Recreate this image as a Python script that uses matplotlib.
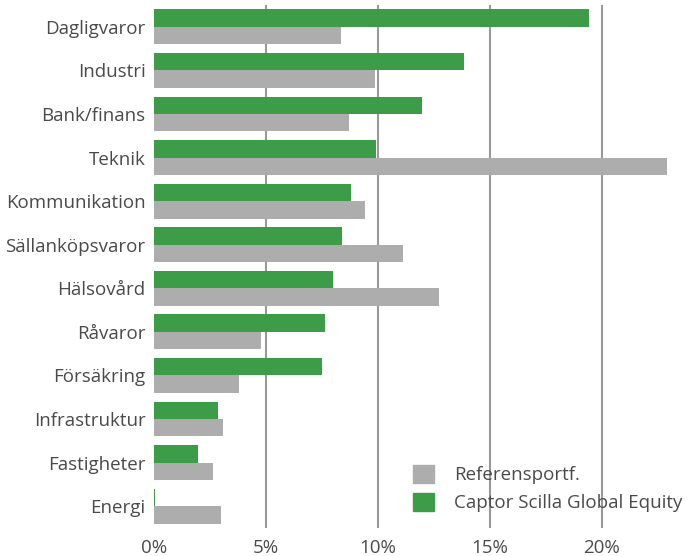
import matplotlib.pyplot as plt
import numpy as np
from matplotlib.patches import Patch

plt.rcParams['font.family'] = ['Open Sans', 'DejaVu Sans']

# Sektorfördelning (%)
sectors = ["Dagligvaror", "Industri", "Bank/finans", "Teknik", "Kommunikation",
           "Sällanköpsvaror", "Hälsovård", "Råvaror", "Försäkring",
           "Infrastruktur", "Fastigheter", "Energi"]
fund = [19.4, 13.85, 11.95, 9.9, 8.8, 8.38, 8.0, 7.65, 7.48, 2.84, 1.98, 0.05]
benchmark = [8.35, 9.87, 8.7, 22.9, 9.4, 11.1, 12.74, 4.77, 3.78, 3.1, 2.62, 2.97]
xticks = [0, 5, 10, 15, 20]

green = "#3d9c48"
grey = "#adadad"
text_col = "#4a4a4a"
fs = 13.5

fig = plt.figure(figsize=(6.9, 5.56), dpi=100)
ax = fig.add_axes([154 / 690, 1 - 528 / 556, 1 - 154 / 690, (528 - 5) / 556])

y = np.arange(len(sectors))
h = 0.4
ax.barh(y - h / 2, fund, height=h, color=green, zorder=2)
ax.barh(y + h / 2, benchmark, height=h, color=grey, zorder=2)

ax.set_ylim(len(sectors) - 0.5, -0.5)
ax.set_xlim(0, 536 / 22.4)
ax.set_yticks(y)
ax.set_yticklabels(sectors, fontsize=fs, color=text_col)
ax.set_xticks(xticks)
ax.set_xticklabels([f"{t}%" for t in xticks], fontsize=fs, color=text_col)
ax.tick_params(axis='y', length=0, pad=6)
ax.tick_params(axis='x', length=0, pad=8)

ax.set_axisbelow(True)
ax.grid(axis='x', color="#999999", linewidth=1.5)
ax.xaxis.get_gridlines()[0].set_visible(False)
for s in ax.spines.values():
    s.set_visible(False)

handles = [Patch(color=grey, label="Referensportf."),
           Patch(color=green, label="Captor Scilla Global Equity")]
fig.legend(handles=handles, loc='upper left', bbox_to_anchor=(396 / 690, 1 - 448 / 556),
           frameon=False, fontsize=fs, handlelength=1.1, handleheight=1.1,
           labelspacing=0.45, handletextpad=1.1, labelcolor=text_col)

fig.savefig("out.png", dpi=100)
